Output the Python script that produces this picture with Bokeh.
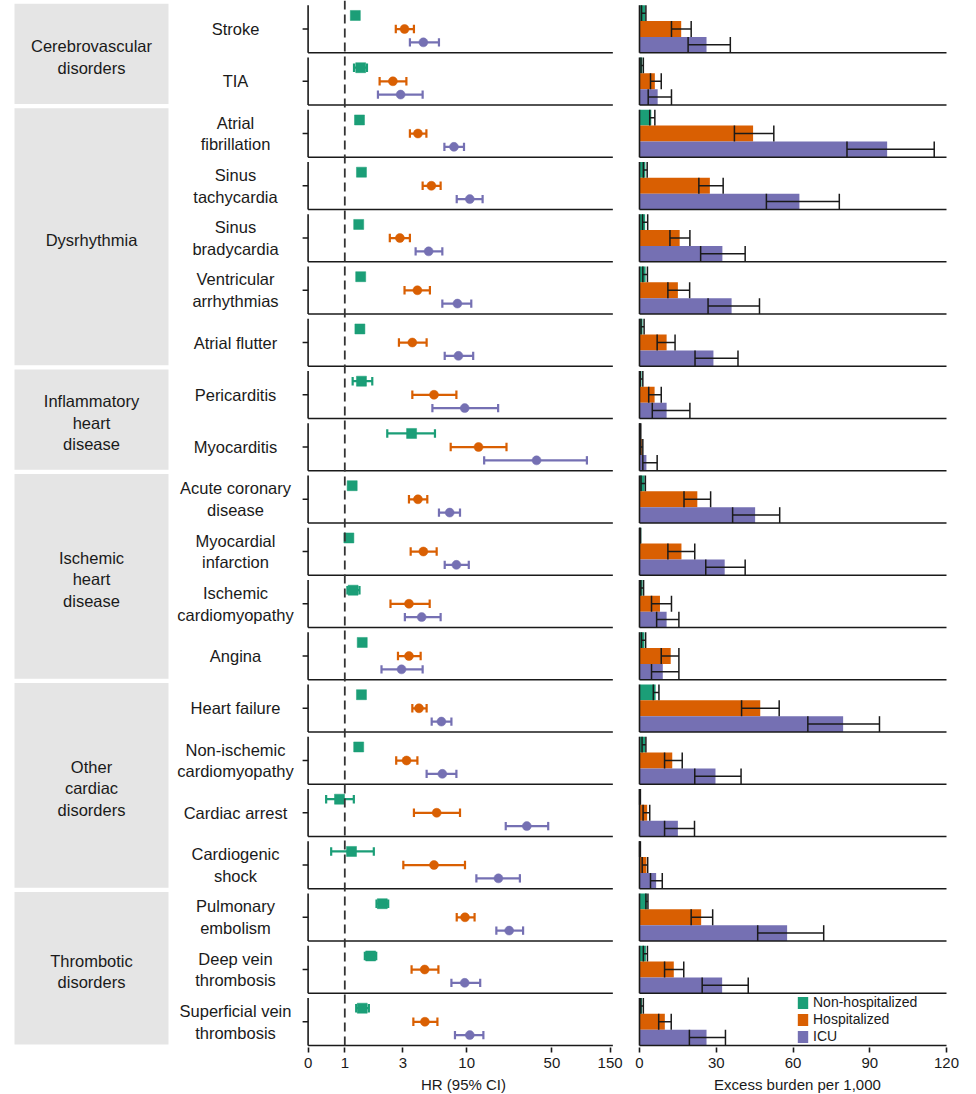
import numpy as np
from bokeh.plotting import figure
from bokeh.layouts import row
from bokeh.models import Range1d, FixedTicker, Legend, LegendItem, Span
from bokeh.embed import file_html
from bokeh.resources import INLINE
from bokeh.core.properties import value

# ---------------- data ----------------
outcomes = [
    "Stroke", "TIA", "Atrial\nfibrillation", "Sinus\ntachycardia", "Sinus\nbradycardia",
    "Ventricular\narrhythmias", "Atrial flutter", "Pericarditis", "Myocarditis",
    "Acute coronary\ndisease", "Myocardial\ninfarction", "Ischemic\ncardiomyopathy", "Angina",
    "Heart failure", "Non-ischemic\ncardiomyopathy", "Cardiac arrest", "Cardiogenic\nshock",
    "Pulmonary\nembolism", "Deep vein\nthrombosis", "Superficial vein\nthrombosis",
]
category_names = [
    "Cerebrovascular\ndisorders", "Dysrhythmia", "Inflammatory\nheart\ndisease",
    "Ischemic\nheart\ndisease", "Other\ncardiac\ndisorders", "Thrombotic\ndisorders",
]
category_rows = [2, 5, 2, 4, 4, 3]
group_names = ["Non-hospitalized", "Hospitalized", "ICU"]

hr_non = [1.22, 1.35, 1.32, 1.37, 1.30, 1.35, 1.33, 1.37, 3.53, 1.15,
          1.08, 1.17, 1.39, 1.37, 1.30, 0.905, 1.135, 2.03, 1.63, 1.39]
hr_non_lo = [1.17, 1.19, 1.27, 1.32, 1.24, 1.29, 1.26, 1.16, 2.23, 1.08,
             1.02, 1.05, 1.33, 1.32, 1.24, 0.703, 0.773, 1.82, 1.46, 1.24]
hr_non_hi = [1.28, 1.52, 1.37, 1.42, 1.36, 1.41, 1.40, 1.68, 5.49, 1.23,
             1.14, 1.32, 1.45, 1.42, 1.36, 1.186, 1.73, 2.27, 1.81, 1.575]

hr_hosp = [3.09, 2.48, 3.98, 5.13, 2.83, 3.94, 3.58, 5.39, 12.5, 3.98,
           4.41, 3.36, 3.36, 4.06, 3.21, 5.67, 5.39, 9.68, 4.52, 4.54]
hr_hosp_lo = [2.62, 1.93, 3.42, 4.35, 2.34, 3.09, 2.78, 3.58, 7.39, 3.36,
              3.47, 2.37, 2.73, 3.58, 2.64, 3.69, 3.02, 8.28, 3.53, 3.65]
hr_hosp_hi = [3.69, 3.20, 4.67, 6.11, 3.42, 4.99, 4.69, 8.23, 21.2, 4.75,
              5.67, 4.97, 4.19, 4.69, 3.94, 8.81, 9.68, 11.6, 5.86, 5.75]

hr_icu = [4.41, 2.87, 7.86, 10.6, 4.87, 8.39, 8.55, 9.63, 37.4, 7.25,
          8.23, 4.27, 2.92, 6.20, 6.31, 31.1, 18.2, 22.3, 9.63, 10.6]
hr_icu_lo = [3.42, 1.87, 6.56, 8.28, 3.81, 6.31, 6.60, 5.23, 13.9, 5.92,
             6.60, 3.11, 2.00, 5.16, 4.69, 20.9, 12.0, 17.5, 7.49, 8.01]
hr_icu_hi = [5.92, 4.35, 9.50, 13.5, 6.31, 10.9, 11.3, 18.1, 96.8, 8.81,
             10.4, 6.11, 4.35, 7.49, 8.23, 46.6, 27.3, 29.0, 12.9, 13.7]

eb_non = [2.2, 1.1, 4.6, 2.3, 2.2, 2.4, 1.2, 0.8, 0.3, 2.0,
          0.7, 1.2, 1.9, 6.3, 2.2, 0.2, 0.2, 2.9, 2.5, 1.0]
eb_non_lo = [0.8, 0.6, 4.0, 1.5, 1.2, 1.3, 0.6, 0.3, 0.1, 0.6,
             0.1, 0.5, 0.8, 5.4, 1.0, 0.05, 0.05, 2.5, 1.5, 0.5]
eb_non_hi = [2.5, 1.5, 6.0, 3.0, 3.2, 3.1, 1.8, 1.3, 0.5, 2.3,
             0.4, 1.6, 2.4, 7.6, 2.5, 0.35, 0.35, 3.3, 3.1, 1.5]

eb_hosp = [16.3, 6.0, 44.4, 27.5, 15.7, 15.0, 10.6, 5.9, 0.9, 22.6,
           16.4, 8.0, 12.2, 47.2, 12.8, 3.0, 2.7, 24.1, 13.4, 9.9]
eb_hosp_lo = [12.5, 4.3, 37.1, 23.2, 11.9, 11.1, 6.9, 3.6, 0.5, 17.4,
              11.1, 4.7, 8.5, 39.9, 9.8, 1.4, 1.05, 20.2, 9.8, 7.5]
eb_hosp_hi = [20.2, 8.5, 52.5, 32.7, 19.7, 19.6, 13.9, 8.5, 1.3, 27.8,
              21.6, 12.5, 15.4, 54.6, 16.7, 4.0, 3.2, 28.6, 17.3, 12.4]

eb_icu = [26.2, 7.1, 96.8, 62.5, 32.4, 36.0, 28.9, 10.6, 2.7, 45.2,
          33.3, 10.6, 9.1, 79.6, 29.7, 15.0, 6.5, 57.7, 32.3, 26.2]
eb_icu_lo = [19.0, 3.4, 81.1, 49.6, 23.9, 26.8, 21.7, 5.0, 1.3, 36.4,
             25.9, 6.7, 4.7, 65.8, 21.6, 9.8, 4.3, 46.2, 24.5, 19.5]
eb_icu_hi = [35.5, 12.5, 115.2, 78.1, 41.3, 46.9, 38.5, 19.7, 6.9, 54.8,
             41.3, 15.4, 15.4, 93.8, 39.7, 21.5, 8.9, 72.0, 42.5, 33.6]

hr_ticks = [0.5, 1, 3, 10, 50, 150]
hr_tick_labels = ["0", "1", "3", "10", "50", "150"]
eb_ticks = [0, 30, 60, 90, 120]

# ---------------- style ----------------
GREEN, ORANGE, PURPLE = "#1b9e77", "#d95f02", "#7570b3"
INK = "#1a1a1a"
FONT = "Liberation Sans"
FRAME_H = 1047
TOP = 0
N = len(outcomes)
idx = np.arange(N)
ROW_PX = (FRAME_H - 2) / N
PAD = 2 / ROW_PX
GAP = 0.092
MID = GAP + (1 - GAP) / 2


def yr():
    return Range1d(N + PAD, 0)


def base(fig):
    fig.grid.visible = False
    fig.outline_line_color = None
    fig.min_border_left = 0
    fig.min_border_right = 0
    fig.min_border_top = TOP
    fig.background_fill_color = "white"
    fig.border_fill_color = "white"


def style_xaxis(ax, label):
    ax.axis_line_alpha = 0
    ax.major_tick_out = 5
    ax.major_tick_in = 0
    ax.minor_tick_out = 0
    ax.minor_tick_in = 0
    ax.major_tick_line_color = INK
    ax.major_tick_line_width = 1.6
    ax.major_label_text_font = FONT
    ax.major_label_text_font_size = "15px"
    ax.major_label_text_color = INK
    ax.major_label_standoff = 5
    ax.axis_label = label
    ax.axis_label_text_font = FONT
    ax.axis_label_text_font_size = "15px"
    ax.axis_label_text_font_style = "normal"
    ax.axis_label_text_color = INK
    ax.axis_label_standoff = 5


# ---------------- label column ----------------
pl = figure(frame_width=300, frame_height=FRAME_H, x_range=Range1d(0, 300), y_range=yr(),
            x_axis_location=None, y_axis_location=None, toolbar_location=None,
            output_backend="svg", title=None)
base(pl)
pl.min_border_bottom = 40
cstart = np.cumsum([0] + category_rows[:-1])
cend = cstart + np.array(category_rows)
pl.quad(left=14, right=168, top=cstart + 0.06, bottom=cend - 0.02,
        fill_color="#e5e5e5", line_color=None)
pl.text(x=91, y=(cstart + cend) / 2 + 0.08, text=category_names, text_align="center",
        text_baseline="middle", text_font=value(FONT), text_font_size="16.5px",
        text_color=INK, text_line_height=1.2)
pl.text(x=235, y=idx + MID, text=outcomes, text_align="center", text_baseline="middle",
        text_font=value(FONT), text_font_size="16.5px", text_color=INK, text_line_height=1.2)

# ---------------- forest plot ----------------
K = 36.7 / np.log10(2)            # px per decade
lstart = np.log10(0.5) - 7.6 / K
lend = lstart + 326 / K
ph = figure(frame_width=326, frame_height=FRAME_H, x_axis_type="log",
            x_range=Range1d(10 ** lstart, 10 ** lend), y_range=yr(),
            y_axis_location=None, toolbar_location=None, output_backend="svg", title=None)
base(ph)
style_xaxis(ph.xaxis[0], "HR (95% CI)")
ph.xaxis[0].ticker = FixedTicker(ticks=hr_ticks)
ph.xaxis[0].major_label_overrides = {t: l for t, l in zip(hr_ticks, hr_tick_labels)}

ph.add_layout(Span(location=1, dimension="height", line_color="#333333",
                   line_width=1.8, line_dash="9 5"))
xl, xr = hr_ticks[0], 158
ph.segment(x0=xl, x1=xr, y0=idx + 1, y1=idx + 1, line_color=INK, line_width=1.6)
ph.segment(x0=xl, x1=xl, y0=idx + GAP, y1=idx + 1, line_color=INK, line_width=1.6)
ph.segment(x0=xl * 10 ** (-5.5 / K), x1=xl, y0=idx + MID, y1=idx + MID,
           line_color=INK, line_width=1.6)

cap = 4.2 / ROW_PX
groups_hr = [
    (hr_non, hr_non_lo, hr_non_hi, GREEN, MID - 0.26, "square", 10),
    (hr_hosp, hr_hosp_lo, hr_hosp_hi, ORANGE, MID, "circle", 9),
    (hr_icu, hr_icu_lo, hr_icu_hi, PURPLE, MID + 0.255, "circle", 9),
]
for v, lo, hi, col, off, mk, sz in groups_hr:
    yy = idx + off
    ph.segment(x0=lo, x1=hi, y0=yy, y1=yy, line_color=col, line_width=2.2)
    ph.segment(x0=lo, x1=lo, y0=yy - cap, y1=yy + cap, line_color=col, line_width=2.2)
    ph.segment(x0=hi, x1=hi, y0=yy - cap, y1=yy + cap, line_color=col, line_width=2.2)
    ph.scatter(x=v, y=yy, marker=mk, size=sz, fill_color=col, line_color=col, line_width=0.5)

# ---------------- excess burden bars ----------------
PXU = 307 / 120.0
pb = figure(frame_width=342, frame_height=FRAME_H,
            x_range=Range1d(-13 / PXU, (342 - 13) / PXU), y_range=yr(),
            y_axis_location=None, toolbar_location=None, output_backend="svg", title=None)
base(pb)
style_xaxis(pb.xaxis[0], "Excess burden per 1,000")
pb.xaxis[0].ticker = FixedTicker(ticks=eb_ticks)

bh = (1 - GAP) / 3
groups_eb = [
    (eb_non, eb_non_lo, eb_non_hi, GREEN, GAP + bh / 2),
    (eb_hosp, eb_hosp_lo, eb_hosp_hi, ORANGE, GAP + 1.5 * bh),
    (eb_icu, eb_icu_lo, eb_icu_hi, PURPLE, GAP + 2.5 * bh),
]
bar_renderers = []
for v, lo, hi, col, off in groups_eb:
    yy = idx + off
    r = pb.hbar(y=yy, left=0, right=v, height=bh, fill_color=col, line_color=None)
    bar_renderers.append(r)
for v, lo, hi, col, off in groups_eb:
    yy = idx + off
    pb.segment(x0=lo, x1=hi, y0=yy, y1=yy, line_color=INK, line_width=1.5)
    pb.segment(x0=lo, x1=lo, y0=yy - bh / 2, y1=yy + bh / 2, line_color=INK, line_width=1.5)
    pb.segment(x0=hi, x1=hi, y0=yy - bh / 2, y1=yy + bh / 2, line_color=INK, line_width=1.5)

bx0, bx1 = eb_ticks[0], eb_ticks[-1]
pb.segment(x0=bx0, x1=bx1, y0=idx + 1, y1=idx + 1, line_color=INK, line_width=1.6)
pb.segment(x0=bx0, x1=bx0, y0=idx + GAP, y1=idx + 1, line_color=INK, line_width=1.6)

legend = Legend(
    items=[LegendItem(label=n, renderers=[r]) for n, r in zip(group_names, bar_renderers)],
    location=(170, 3), orientation="vertical", padding=0, margin=0, spacing=1,
    glyph_width=13, glyph_height=15, label_height=15, label_standoff=4,
    label_text_font=FONT, label_text_font_size="14px", label_text_color=INK,
    border_line_color=None, background_fill_alpha=0,
)
pb.add_layout(legend)

layout = row(pl, ph, pb)
open("out.html", "w").write(file_html(layout, INLINE))
